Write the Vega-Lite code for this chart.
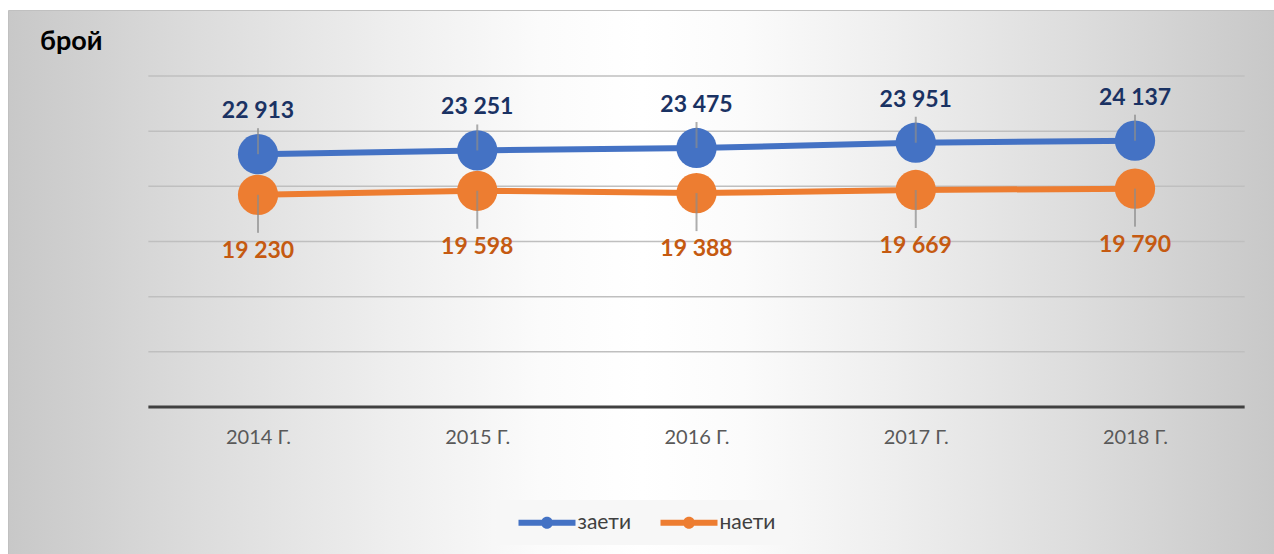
{
  "$schema": "https://vega.github.io/schema/vega-lite/v6.json",
  "width": 1266,
  "height": 544,
  "autosize": "none",
  "padding": {"left": 8, "top": 10, "right": 0, "bottom": 0},
  "background": "#ffffff",
  "config": {
    "font": "Lato",
    "view": {
      "stroke": "#c0c0c0",
      "strokeWidth": 1,
      "fill": {
        "gradient": "linear",
        "x1": 0, "y1": 0, "x2": 1, "y2": 0,
        "stops": [
          {"offset": 0, "color": "#c8c8c8"},
          {"offset": 0.15, "color": "#dcdcdc"},
          {"offset": 0.3, "color": "#eeeeee"},
          {"offset": 0.42, "color": "#fbfbfb"},
          {"offset": 0.5, "color": "#ffffff"},
          {"offset": 0.58, "color": "#fbfbfb"},
          {"offset": 0.7, "color": "#eeeeee"},
          {"offset": 0.85, "color": "#dcdcdc"},
          {"offset": 1, "color": "#c8c8c8"}
        ]
      }
    },
    "legend": {
      "title": null,
      "orient": "none",
      "direction": "horizontal",
      "legendX": 489,
      "legendY": 490,
      "fillColor": "#f7f7f7",
      "padding": 12,
      "columnPadding": 20,
      "symbolType": "M-2.85,-0.3H2.85V0.3H-2.85Z M-0.6,0A0.6,0.6,0,1,1,0.6,0A0.6,0.6,0,1,1,-0.6,0Z",
      "symbolSize": 400,
      "symbolStrokeWidth": 0,
      "symbolOffset": 27.5,
      "labelOffset": 20,
      "labelFontSize": 21,
      "labelColor": "#404040",
      "labelFont": "Lato"
    }
  },
  "title": {
    "text": "брой",
    "anchor": "start",
    "frame": "group",
    "fontSize": 27,
    "fontWeight": "bold",
    "color": "#000000",
    "font": "Lato",
    "dx": 32,
    "dy": 50
  },
  "datasets": {
    "main": [
      {"year": 2014, "series": "заети", "value": 22913, "label": "22 913"},
      {"year": 2015, "series": "заети", "value": 23251, "label": "23 251"},
      {"year": 2016, "series": "заети", "value": 23475, "label": "23 475"},
      {"year": 2017, "series": "заети", "value": 23951, "label": "23 951"},
      {"year": 2018, "series": "заети", "value": 24137, "label": "24 137"},
      {"year": 2014, "series": "наети", "value": 19230, "label": "19 230"},
      {"year": 2015, "series": "наети", "value": 19598, "label": "19 598"},
      {"year": 2016, "series": "наети", "value": 19388, "label": "19 388"},
      {"year": 2017, "series": "наети", "value": 19669, "label": "19 669"},
      {"year": 2018, "series": "наети", "value": 19790, "label": "19 790"}
    ],
    "grid": [
      {"v": 5000}, {"v": 10000}, {"v": 15000}, {"v": 20000}, {"v": 25000}, {"v": 30000}
    ]
  },
  "data": {"name": "main"},
  "layer": [
    {
      "data": {"name": "grid"},
      "mark": {"type": "rule", "color": "#bfbfbf", "strokeWidth": 1.5},
      "encoding": {
        "y": {"field": "v", "type": "quantitative", "scale": {"domain": [-13323, 35982], "nice": false, "zero": false}, "axis": null},
        "x": {"datum": 2013.5, "type": "quantitative", "scale": {"domain": [2012.8597, 2018.6339], "nice": false, "zero": false}},
        "x2": {"datum": 2018.5}
      }
    },
    {
      "data": {"values": [{"v": 0}]},
      "mark": {"type": "rule", "color": "#404040", "strokeWidth": 3},
      "encoding": {
        "y": {"field": "v", "type": "quantitative"},
        "x": {"datum": 2013.5, "type": "quantitative"},
        "x2": {"datum": 2018.5}
      }
    },
    {
      "mark": {"type": "line", "strokeWidth": 6},
      "encoding": {
        "x": {
          "field": "year", "type": "quantitative",
          "axis": {
            "values": [2014, 2015, 2016, 2017, 2018],
            "labelExpr": "datum.value + ' Г.'",
            "domain": false, "ticks": false, "tickSize": 0, "grid": false,
            "offset": -147, "labelPadding": 20, "title": null,
            "labelFontSize": 20, "labelColor": "#595959", "labelFont": "Lato"
          }
        },
        "y": {"field": "value", "type": "quantitative"},
        "color": {
          "field": "series", "type": "nominal",
          "scale": {"domain": ["заети", "наети"], "range": ["#4472C4", "#ED7D31"]},
          "legend": {
            "encode": {"symbols": {"update": {"fill": {"scale": "color", "field": "value"}, "strokeWidth": {"value": 0}}}}
          }
        }
      }
    },
    {
      "mark": {"type": "circle", "size": 1620, "opacity": 1},
      "encoding": {
        "x": {"field": "year", "type": "quantitative"},
        "y": {"field": "value", "type": "quantitative"},
        "color": {
          "field": "series", "type": "nominal",
          "legend": {
            "encode": {"symbols": {"update": {"fill": {"scale": "color", "field": "value"}, "strokeWidth": {"value": 0}}}}
          }
        }
      }
    },
    {
      "transform": [{"filter": "datum.series == 'заети'"}],
      "mark": {"type": "tick", "orient": "vertical", "size": 26, "thickness": 2, "color": "#8c8c8c", "yOffset": -13},
      "encoding": {
        "x": {"field": "year", "type": "quantitative"},
        "y": {"field": "value", "type": "quantitative"}
      }
    },
    {
      "transform": [{"filter": "datum.series == 'наети'"}],
      "mark": {"type": "tick", "orient": "vertical", "size": 38, "thickness": 2, "color": "#8c8c8c", "yOffset": 19},
      "encoding": {
        "x": {"field": "year", "type": "quantitative"},
        "y": {"field": "value", "type": "quantitative"}
      }
    },
    {
      "transform": [{"filter": "datum.series == 'заети'"}],
      "mark": {"type": "text", "dy": -43, "fontSize": 23, "fontWeight": "bold", "color": "#1A3263", "baseline": "middle", "font": "Lato"},
      "encoding": {
        "x": {"field": "year", "type": "quantitative"},
        "y": {"field": "value", "type": "quantitative"},
        "text": {"field": "label"}
      }
    },
    {
      "transform": [{"filter": "datum.series == 'наети'"}],
      "mark": {"type": "text", "dy": 56, "fontSize": 23, "fontWeight": "bold", "color": "#C55A11", "baseline": "middle", "font": "Lato"},
      "encoding": {
        "x": {"field": "year", "type": "quantitative"},
        "y": {"field": "value", "type": "quantitative"},
        "text": {"field": "label"}
      }
    }
  ]
}
